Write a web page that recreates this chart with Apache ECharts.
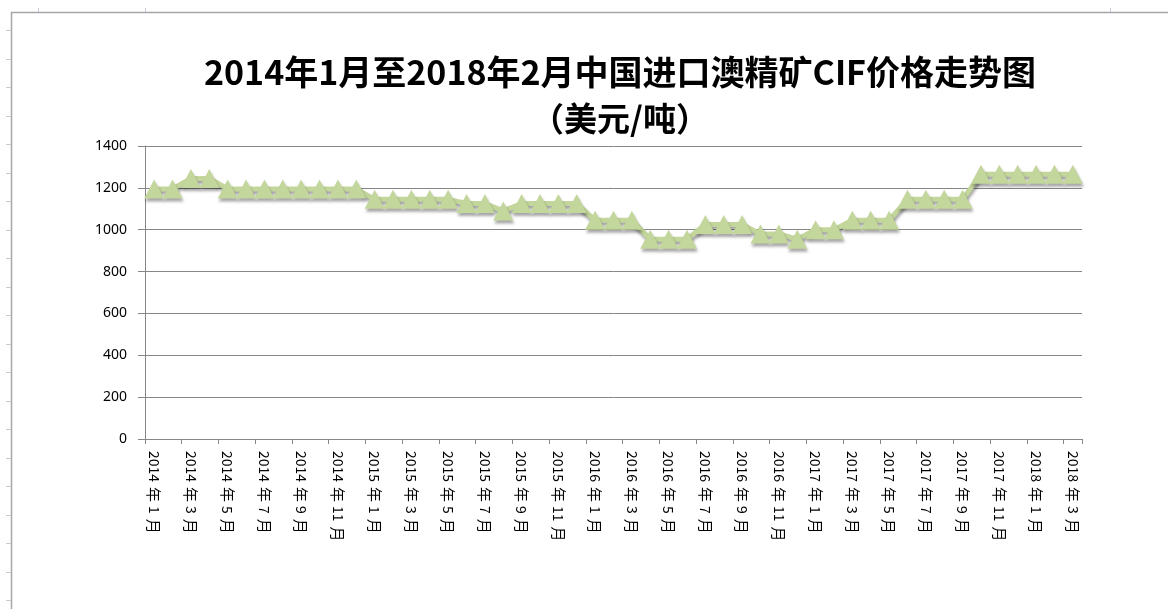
<!DOCTYPE html>
<html>
<head>
<meta charset="utf-8">
<title>2014年1月至2018年2月中国进口澳精矿CIF价格走势图</title>
<script src="https://cdn.jsdelivr.net/npm/echarts@6/dist/echarts.min.js"></script>
<style>
  html, body { margin: 0; padding: 0; background: #fff; }
  #mychart { width: 1168px; height: 609px; }
</style>
</head>
<body>
<div id="mychart"></div>
<script>
// 横轴 月份
const categories = [
  "2014年1月", "2014年2月", "2014年3月", "2014年4月", "2014年5月", "2014年6月",
  "2014年7月", "2014年8月", "2014年9月", "2014年10月", "2014年11月", "2014年12月",
  "2015年1月", "2015年2月", "2015年3月", "2015年4月", "2015年5月", "2015年6月",
  "2015年7月", "2015年8月", "2015年9月", "2015年10月", "2015年11月", "2015年12月",
  "2016年1月", "2016年2月", "2016年3月", "2016年4月", "2016年5月", "2016年6月",
  "2016年7月", "2016年8月", "2016年9月", "2016年10月", "2016年11月", "2016年12月",
  "2017年1月", "2017年2月", "2017年3月", "2017年4月", "2017年5月", "2017年6月",
  "2017年7月", "2017年8月", "2017年9月", "2017年10月", "2017年11月", "2017年12月",
  "2018年1月", "2018年2月", "2018年3月"
];

// 价格（美元/吨）
const prices = [
  1195, 1195, 1245, 1245, 1195, 1195, 1195, 1195, 1195, 1195, 1195, 1195,
  1145, 1145, 1145, 1145, 1145, 1125, 1125, 1090, 1125, 1125, 1125, 1125,
  1045, 1045, 1045, 955, 955, 955, 1025, 1025, 1025, 980, 980, 955,
  1000, 1000, 1045, 1045, 1045, 1145, 1145, 1145, 1145, 1265, 1265, 1265,
  1265, 1265, 1265
];

// 纵轴刻度
const yMin = 0;
const yMax = 1400;
const yStep = 200;

const titleText = "2014年1月至2018年2月中国进口澳精矿CIF价格走势图";
const subText = "（美元/吨）";

const axisGray = "#878787";
const green = "#c3d69b";

// 表格边框上的小刻度
const sideTicks = [];
for (let y = 30; y < 609; y += 28.5) {
  sideTicks.push({
    type: "line",
    silent: true,
    shape: { x1: 6, y1: Math.round(y) + 0.5, x2: 11, y2: Math.round(y) + 0.5 },
    style: { stroke: "#c5cbd8", lineWidth: 1 }
  });
}
[38, 145, 1110].forEach(function (x) {
  sideTicks.push({
    type: "line",
    silent: true,
    shape: { x1: x + 0.5, y1: 8, x2: x + 0.5, y2: 12 },
    style: { stroke: "#c5cbd8", lineWidth: 1 }
  });
});

const chart = echarts.init(document.getElementById("mychart"), null, { renderer: "canvas" });

chart.setOption({
  backgroundColor: "#ffffff",
  animation: false,
  textStyle: { fontFamily: "Noto Sans CJK SC" },
  graphic: [
    {
      type: "rect",
      silent: true,
      shape: { x: 11.5, y: 12.5, width: 1300, height: 800 },
      style: { fill: "none", stroke: "#a6a6a6", lineWidth: 1.5 }
    },
    {
      type: "text",
      silent: true,
      x: 620,
      y: 72,
      style: {
        text: titleText,
        font: "bold 34px 'Noto Sans CJK SC'",
        fill: "#000",
        textAlign: "center",
        textVerticalAlign: "middle"
      }
    },
    {
      type: "text",
      silent: true,
      x: 620,
      y: 118,
      style: {
        text: subText,
        font: "bold 33px 'Noto Sans CJK SC'",
        fill: "#000",
        textAlign: "center",
        textVerticalAlign: "middle"
      }
    }
  ].concat(sideTicks),
  grid: {
    left: 145,
    right: 86,
    top: 146,
    bottom: 170,
    containLabel: false
  },
  xAxis: {
    type: "category",
    data: categories,
    boundaryGap: true,
    axisLine: { show: true, lineStyle: { color: axisGray, width: 1 } },
    axisTick: { show: true, interval: 1, length: 5, lineStyle: { color: axisGray } },
    axisLabel: {
      interval: 1,
      rotate: -90,
      margin: 12,
      color: "#000",
      fontSize: 14,
      fontFamily: "Noto Sans CJK SC",
      // 汉字两侧留空，模仿竖排效果
      formatter: function (v) {
        return v.replace(/年/g, "{c|年}").replace(/月/g, "{c|月}");
      },
      rich: {
        c: { fontSize: 15, color: "#000", padding: [0, 4, 0, 5] }
      }
    },
    splitLine: { show: false }
  },
  yAxis: {
    type: "value",
    min: yMin,
    max: yMax,
    interval: yStep,
    axisLine: { show: true, lineStyle: { color: axisGray, width: 1 } },
    axisTick: { show: true, length: 7, lineStyle: { color: axisGray } },
    axisLabel: {
      margin: 18,
      color: "#000",
      fontSize: 14,
      fontFamily: "Noto Sans",
      formatter: function (v) { return String(v); }
    },
    splitLine: { show: true, lineStyle: { color: axisGray, width: 1 } }
  },
  series: [
    {
      name: "价格",
      type: "line",
      data: prices,
      symbol: "triangle",
      symbolSize: [20, 19],
      showAllSymbol: true,
      smooth: false,
      lineStyle: {
        color: green,
        width: 5,
        shadowColor: "rgba(0,0,0,0.35)",
        shadowBlur: 3,
        shadowOffsetX: 1,
        shadowOffsetY: 3
      },
      itemStyle: {
        color: green,
        borderWidth: 0,
        shadowColor: "rgba(0,0,0,0.35)",
        shadowBlur: 3,
        shadowOffsetX: 1,
        shadowOffsetY: 3
      }
    }
  ]
});
</script>
</body>
</html>
